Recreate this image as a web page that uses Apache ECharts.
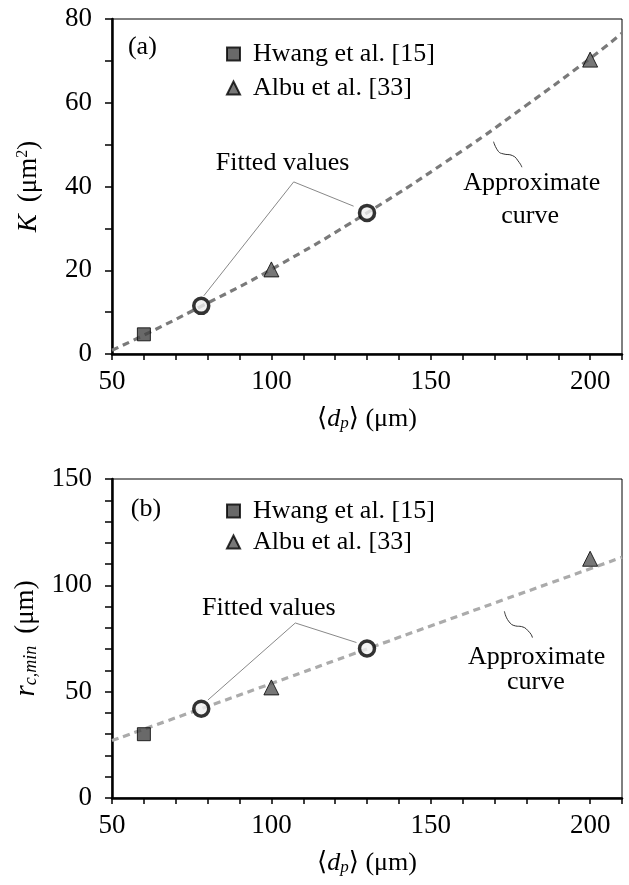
<!DOCTYPE html>
<html lang="en">
<head>
<meta charset="UTF-8">
<title>K and r_c,min vs d_p</title>
<script src="https://cdn.jsdelivr.net/npm/echarts@6/dist/echarts.min.js"></script>
<style>
  html, body { margin: 0; padding: 0; background: #fff; }
  #main { width: 629px; height: 885px; }
</style>
</head>
<body>
<div id="main"></div>
<script>
// panel (a): K (um^2)
var hwangK = [[60, 4.7]];
var albuK = [[100, 20.2], [200, 70.3]];
var fittedK = [[78, 11.5], [130, 33.7]];
var curveKx = [50, 60, 78, 100, 130, 160, 180, 200, 210];
var curveKy = [0.9, 4.5, 11.4, 20.2, 33.7, 48.6, 59.4, 70.6, 76.6];
var leaderK = [[78.8, 13.9], [107, 41.1], [125.8, 35.3]];
var squiggleK = [[169.7, 50.7], [171.2, 48.4], [172.7, 47.8], [175.6, 47.4], [177.8, 45.7], [178.6, 44.6]];

// panel (b): r_c,min (um)
var hwangR = [[60, 30]];
var albuR = [[100, 52], [200, 112.5]];
var fittedR = [[78, 42], [130, 70.3]];
var curveRx = [50, 78, 100, 130, 160, 200, 210];
var curveRy = [27, 42, 53.8, 70.1, 86.3, 107.8, 113.2];
var leaderR = [[80.1, 46.1], [107.5, 82.3], [126.7, 73.1]];
var squiggleR = [[173.1, 87.8], [174.4, 83.2], [176.6, 80.9], [178.5, 80.6], [181.1, 77.7], [181.9, 75.4]];

var names = ['Hwang et al. [15]', 'Albu et al. [33]'];

// annotation texts [text, x, y, align] in data units
var notesA = [['(a)', 55.0, 73.3, 'left'], ['Fitted values', 103.5, 45.5, 'center'],
              ['Approximate', 181.7, 40.8, 'center'], ['curve', 181.2, 32.8, 'center']];
var notesB = [['(b)', 55.9, 135.6, 'left'], ['Fitted values', 99.2, 89.1, 'center'],
              ['Approximate', 183.2, 66.4, 'center'], ['curve', 183.0, 54.4, 'center']];

var serif = '"Liberation Serif", "Times New Roman", "DejaVu Serif", serif';

function zip(xs, ys) {
    return xs.map(function (x, i) { return [x, ys[i]]; });
}

function xAx(gi) {
    return {
        type: 'value', gridIndex: gi, min: 50, max: 210, interval: 10,
        name: '{n|\u27e8}{i|d}{sub|p}{n|\u27e9 (\u03bcm)}',
        nameLocation: 'middle', nameGap: 52,
        nameTextStyle: {
            fontFamily: serif, color: '#000',
            rich: {
                n: {fontFamily: serif, fontSize: 26, color: '#000'},
                i: {fontFamily: serif, fontSize: 26, fontStyle: 'italic', color: '#000'},
                sub: {fontFamily: serif, fontSize: 17, fontStyle: 'italic', color: '#000', verticalAlign: 'bottom', padding: [8, 0, 0, 0]}
            }
        },
        axisLine: {lineStyle: {color: '#000', width: 2.5}},
        axisTick: {length: 6, lineStyle: {color: '#000', width: 1.5}},
        axisLabel: {
            fontFamily: serif, fontSize: 27, color: '#000', margin: 14,
            formatter: function (v) { return v % 50 === 0 ? String(v) : ''; }
        },
        splitLine: {show: false}
    };
}

function yAx(gi, max, step, name, rich) {
    return {
        type: 'value', gridIndex: gi, min: 0, max: max, interval: 10,
        name: name, nameLocation: 'middle', nameGap: 70,
        nameTextStyle: {fontFamily: serif, color: '#000', rich: rich},
        axisLine: {lineStyle: {color: '#000', width: 2.5}},
        axisTick: {length: 7, lineStyle: {color: '#000', width: 1.5}},
        axisLabel: {
            fontFamily: serif, fontSize: 27, color: '#000', margin: 20,
            formatter: function (v) { return v % step === 0 ? String(v) : ''; }
        },
        splitLine: {show: false}
    };
}

function panel(gi, hw, al, fit, curve, leader, squig, curveColor) {
    return [
        {type: 'line', xAxisIndex: gi, yAxisIndex: gi, data: curve, smooth: true, symbol: 'none',
         lineStyle: {color: curveColor, width: 3.2, type: [7, 5]}, silent: true, z: 2},
        {type: 'line', xAxisIndex: gi, yAxisIndex: gi, data: leader, symbol: 'none',
         lineStyle: {color: '#888', width: 1}, silent: true, z: 3},
        {type: 'line', xAxisIndex: gi, yAxisIndex: gi, data: squig, smooth: true, symbol: 'none',
         lineStyle: {color: '#333', width: 1}, silent: true, z: 3},
        {name: names[0], type: 'scatter', xAxisIndex: gi, yAxisIndex: gi, data: hw,
         symbol: 'rect', symbolSize: 13,
         itemStyle: {color: '#444', borderColor: '#000', borderWidth: 1}, z: 5},
        {name: names[1], type: 'scatter', xAxisIndex: gi, yAxisIndex: gi, data: al,
         symbol: 'triangle', symbolSize: 15,
         itemStyle: {color: '#555', borderColor: '#000', borderWidth: 1}, z: 5},
        {type: 'scatter', xAxisIndex: gi, yAxisIndex: gi, data: fit,
         symbol: 'circle', symbolSize: 15,
         itemStyle: {color: '#f0f0f0', borderColor: '#000', borderWidth: 3.5}, z: 6}
    ];
}

function legendAt(top, gap) {
    return {
        orient: 'vertical', left: 226, top: top, itemGap: gap, padding: 0,
        itemWidth: 13, itemHeight: 13, data: names, selectedMode: false,
        textStyle: {fontFamily: serif, fontSize: 26, color: '#000', padding: [0, 0, 0, 8]}
    };
}

var chart = echarts.init(document.getElementById('main'));

var option = {
    animation: false,
    backgroundColor: '#fff',
    grid: [
        {left: 112, top: 19, right: 7, height: 335, show: true, borderColor: '#000', borderWidth: 1},
        {left: 112, top: 479, right: 7, height: 319, show: true, borderColor: '#000', borderWidth: 1}
    ],
    legend: [legendAt(41, 8), legendAt(498, 5)],
    xAxis: [xAx(0), xAx(1)],
    yAxis: [
        yAx(0, 80, 20, '{k|K}    {n|(\u03bcm}{sup|2}{n|)}', {
            k: {fontFamily: serif, fontSize: 27, fontStyle: 'italic', color: '#000'},
            n: {fontFamily: serif, fontSize: 27, color: '#000'},
            sup: {fontFamily: serif, fontSize: 16, color: '#000', verticalAlign: 'top', padding: [0, 0, 11, 0]}
        }),
        yAx(1, 150, 50, '{r|r}{sub|c,min}    {n|(\u03bcm)}', {
            r: {fontFamily: serif, fontSize: 29, fontStyle: 'italic', color: '#000'},
            n: {fontFamily: serif, fontSize: 27, color: '#000'},
            sub: {fontFamily: serif, fontSize: 18, fontStyle: 'italic', color: '#000', verticalAlign: 'bottom', padding: [8, 0, 0, 0]}
        })
    ],
    series: panel(0, hwangK, albuK, fittedK, zip(curveKx, curveKy), leaderK, squiggleK, '#7a7a7a')
        .concat(panel(1, hwangR, albuR, fittedR, zip(curveRx, curveRy), leaderR, squiggleR, '#ababab'))
};

chart.setOption(option);

// annotation texts placed through the grids' own coordinate systems
var texts = [];
[[0, notesA], [1, notesB]].forEach(function (p) {
    p[1].forEach(function (n) {
        var pt = chart.convertToPixel({gridIndex: p[0]}, [n[1], n[2]]);
        texts.push({
            type: 'text', x: pt[0], y: pt[1], z: 10,
            style: {text: n[0], fontFamily: serif, fontSize: 26, fill: '#000',
                    align: n[3], verticalAlign: 'middle'}
        });
    });
});
chart.setOption({graphic: texts});
</script>
</body>
</html>
